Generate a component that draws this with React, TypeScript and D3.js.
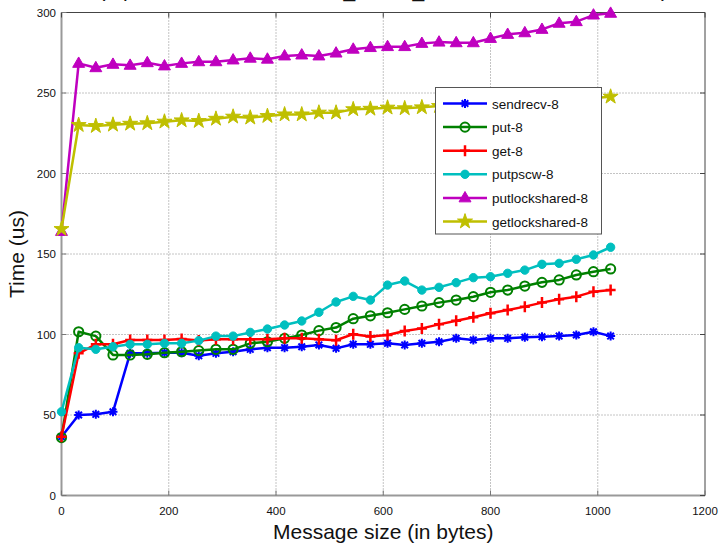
import React from 'react'
import * as d3 from 'd3'

// message sizes in bytes
const sizes = [0, 32, 64, 96, 128, 160, 192, 224, 256, 288, 320, 352, 384, 416, 448, 480, 512,
  544, 576, 608, 640, 672, 704, 736, 768, 800, 832, 864, 896, 928, 960, 992, 1024]

// times in us
const sendrecv = [36.5, 50, 50.4, 52, 88.3, 88.3, 88.7, 88.7, 86.8, 88.3, 89.3, 90.8, 91.8, 91.8, 92.4, 93.5,
  91.4, 93.9, 93.9, 94.5, 93.5, 94.5, 95.5, 97.6, 96.6, 97.6, 97.6, 98.3, 98.6, 99, 99.7, 101.7, 99]
const put = [36, 101.7, 99, 87.3, 87.3, 87.7, 88.7, 89.3, 90, 90.8, 90.8, 94.5, 95.5, 97.6, 99.7, 102.4,
  104.3, 109.8, 111.6, 113.5, 115.6, 117.7, 119.8, 121.4, 123.5, 126.2, 127.6, 130.1, 132.4, 133.9, 137, 139, 140.7]
const get = [36.5, 88.3, 93.9, 93.9, 96.6, 96.6, 96.6, 97.2, 96.2, 97, 97, 97, 97, 97.6, 97.6, 97,
  96.4, 100.2, 98.8, 99.7, 102.2, 103.8, 106.3, 108.6, 110.7, 113.2, 115.2, 117.3, 119.8, 121.9, 123.5, 126.6, 127.6]
const putpscw = [52, 91.8, 90.8, 92.4, 93.9, 93.9, 94.5, 94.5, 96.2, 99, 99, 101.3, 103.4, 105.9, 108.4, 113.8,
  120.2, 123.7, 121.4, 130.7, 133.2, 127.6, 129.3, 132.2, 135.3, 135.9, 138, 140, 143.6, 144.2, 146.7, 149.4, 154.2]
const putlockshared = [164, 268.4, 265.7, 267.8, 267.2, 268.8, 266.8, 268.4, 269.4, 269.4, 270.5, 271.6, 271, 273, 273.6, 273,
  274.8, 277.2, 278.2, 278.8, 278.8, 280.8, 281.6, 281.2, 281.2, 283.9, 286.4, 287.4, 289.5, 293.3, 294.3, 298.4, 299.5]
const getlockshared = [165.5, 230.1, 229.5, 230.3, 230.9, 231.2, 232.2, 233, 232.6, 234, 235.3, 234.7, 235.7, 236.7, 236.7, 237.8,
  237.8, 239.9, 240.2, 240.9, 240.5, 241.1, 241.9, 242.2, 243.1, 243, 243.9, 244.6, 244.8, 245.7, 246.1, 246.9, 247.7]

const seriesNames = ['sendrecv-8', 'put-8', 'get-8', 'putpscw-8', 'putlockshared-8', 'getlockshared-8']
const seriesValues = [sendrecv, put, get, putpscw, putlockshared, getlockshared]
const seriesColors = ['#0000ff', '#008000', '#ff0000', '#00bfbf', '#bf00bf', '#bfbf00']
const seriesMarkers = ['asterisk', 'circle', 'plus', 'dot', 'triangle', 'star']

const xTicks = [0, 200, 400, 600, 800, 1000, 1200]
const yTicks = [0, 50, 100, 150, 200, 250, 300]

const titleText = '(8 processes, 1 node, MPI_LOCK_SHARED, 1000 iterations)'
const xLabel = 'Message size (in bytes)'
const yLabel = 'Time (us)'

const W = 719
const H = 545
const margin = { top: 12.5, right: 14, bottom: 49.5, left: 61.5 }
const font = '"Liberation Sans", Arial, Helvetica, sans-serif'

const Marker = ({ kind, color }: { kind: string; color: string }) => {
  if (kind === 'asterisk')
    return <path d="M-4.5,0H4.5M0,-4.5V4.5M-3.3,-3.3L3.3,3.3M-3.3,3.3L3.3,-3.3" stroke={color} strokeWidth={2} fill="none" />
  if (kind === 'circle')
    return <circle r={4.6} fill="none" stroke={color} strokeWidth={2} />
  if (kind === 'plus')
    return <path d="M-5,0H5M0,-5.5V5.5" stroke={color} strokeWidth={2.5} fill="none" />
  if (kind === 'dot')
    return <path d={d3.symbol(d3.symbolCircle, 55)() || ''} fill={color} stroke={color} strokeWidth={1} />
  if (kind === 'triangle')
    return <path d={d3.symbol(d3.symbolTriangle, 62)() || ''} fill={color} stroke={color} strokeWidth={1} transform="translate(0,0.5)" />
  return <path d={d3.symbol(d3.symbolStar, 70)() || ''} fill={color} stroke={color} strokeWidth={1} />
}

export default function App() {
  const x = d3.scaleLinear().domain([0, 1200]).range([margin.left, W - margin.right])
  const y = d3.scaleLinear().domain([0, 300]).range([H - margin.bottom, margin.top])
  const line = d3.line<number>().x((d, i) => x(sizes[i])).y(d => y(d))

  const x0 = x(0), x1 = x(1200), y0 = y(0), y1 = y(300)
  const legend = { x: 435.5, y: 87.5, w: 166, h: 146.5 }

  return (
    <svg width={W} height={H} style={{ position: 'absolute', left: 0, top: 0, background: '#fff' }} fontFamily={font}>
      <rect width={W} height={H} fill="#fff" />

      {/* grid */}
      {xTicks.slice(1, -1).map(t => (
        <line key={'gx' + t} x1={x(t)} x2={x(t)} y1={y0} y2={y1} stroke="#888" strokeWidth={1} strokeDasharray="1,2" />
      ))}
      {yTicks.slice(1, -1).map(t => (
        <line key={'gy' + t} x1={x0} x2={x1} y1={y(t)} y2={y(t)} stroke="#888" strokeWidth={1} strokeDasharray="1,2" />
      ))}

      {/* box */}
      <line x1={x0} x2={x1} y1={y1} y2={y1} stroke="#444" strokeWidth={1} />
      <line x1={x1} x2={x1} y1={y1} y2={y0} stroke="#444" strokeWidth={1} />
      <line x1={x0} x2={x1} y1={y0} y2={y0} stroke="#999" strokeWidth={2} />
      <line x1={x0} x2={x0} y1={y1} y2={y0} stroke="#999" strokeWidth={2} />

      {/* ticks */}
      {xTicks.map(t => (
        <g key={'tx' + t}>
          <line x1={x(t)} x2={x(t)} y1={y0} y2={y0 - 5} stroke="#777" />
          <line x1={x(t)} x2={x(t)} y1={y1} y2={y1 + 5} stroke="#444" />
          <text x={x(t)} y={515} textAnchor="middle" fontSize={11.5} fill="#111">{t}</text>
        </g>
      ))}
      {yTicks.map(t => (
        <g key={'ty' + t}>
          <line x1={x0} x2={x0 + 5} y1={y(t)} y2={y(t)} stroke="#777" />
          <line x1={x1} x2={x1 - 5} y1={y(t)} y2={y(t)} stroke="#444" />
          <text x={56} y={y(t) + 4} textAnchor="end" fontSize={11.5} fill="#111">{t}</text>
        </g>
      ))}

      {/* series */}
      {seriesValues.map((vals, s) => (
        <g key={seriesNames[s]}>
          <path d={line(vals) || ''} fill="none" stroke={seriesColors[s]} strokeWidth={2.5} strokeLinejoin="round" />
          {vals.map((v, i) => (
            <g key={i} transform={`translate(${x(sizes[i])},${y(v)})`}>
              <Marker kind={seriesMarkers[s]} color={seriesColors[s]} />
            </g>
          ))}
        </g>
      ))}

      {/* legend */}
      <rect x={legend.x} y={legend.y} width={legend.w} height={legend.h} fill="#fff" stroke="#555" strokeWidth={1} />
      {seriesNames.map((name, s) => {
        const ry = legend.y + 16 + s * 23.6
        return (
          <g key={'lg' + name}>
            <line x1={legend.x + 7.5} x2={legend.x + 51.5} y1={ry} y2={ry} stroke={seriesColors[s]} strokeWidth={2.5} />
            <g transform={`translate(${legend.x + 29.5},${ry})`}>
              <Marker kind={seriesMarkers[s]} color={seriesColors[s]} />
            </g>
            <text x={legend.x + 56.5} y={ry + 5} fontSize={13.5} fill="#111">{name}</text>
          </g>
        )
      })}

      {/* labels; the title sits above the page edge, only its lowest strokes show */}
      <text x={(x0 + x1) / 2} y={-3} textAnchor="middle" fontSize={21} fill="#111">{titleText}</text>
      <text x={(x0 + x1) / 2} y={539} textAnchor="middle" fontSize={21} fill="#111">{xLabel}</text>
      <text transform={`translate(24,${(y0 + y1) / 2}) rotate(-90)`} textAnchor="middle" fontSize={21} fill="#111">{yLabel}</text>
    </svg>
  )
}
